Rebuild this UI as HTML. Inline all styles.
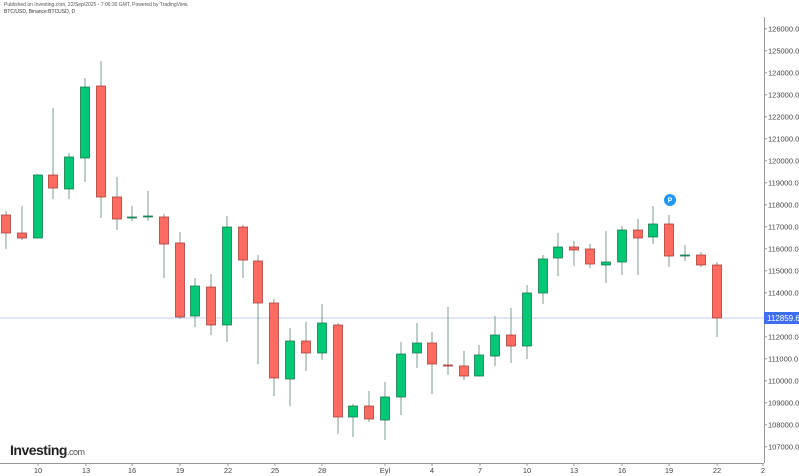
<!DOCTYPE html>
<html><head><meta charset="utf-8"><style>
html,body{margin:0;padding:0;background:#fff;width:799px;height:476px;overflow:hidden}
svg{display:block;font-family:"Liberation Sans",sans-serif}
</style></head><body>
<svg id="s" width="799" height="476" viewBox="0 0 799 476" xmlns="http://www.w3.org/2000/svg">
<text x="4" y="6" font-size="5" fill="#555">Published on Investing.com, 22/Sep/2025 - 7:06:30 GMT, Powered by TradingView.</text>
<text x="4" y="13" font-size="5" fill="#333">BTC/USD, Binance:BTCUSD, D</text>
<line x1="0" y1="318" x2="764" y2="318" stroke="#c5cff0" stroke-width="1"/>
<line x1="764.5" y1="17" x2="764.5" y2="463" stroke="#999" stroke-width="1"/>
<line x1="0" y1="463.5" x2="764" y2="463.5" stroke="#999" stroke-width="1"/>
<g id="c"></g>
<circle cx="670" cy="200" r="6" fill="#2196f3"/>
<text x="670" y="202.5" font-size="7" fill="#fff" text-anchor="middle" font-weight="bold">P</text>
<rect x="764" y="312" width="35" height="12" fill="#3d6ef0"/>
<text x="767" y="321" font-size="8" fill="#fff">112859.6</text>
<text x="10" y="455" font-size="14" font-weight="bold" fill="#222" letter-spacing="-0.5">Investing<tspan font-size="9" font-weight="normal" fill="#555">.com</tspan></text>
</svg>
<script>
var d=[[6,0,215,233,211,249],[22,0,233,238,206,240],[38,1,175,238,174,238],[53,0,175,188,108,199],[69,1,157,189,153,199],[85,1,87,158,78,182],[101,0,86,197,61,218],[117,0,197,219,177,230],[132,1,217,218,206,221],[148,1,216,217,191,221],[164,0,217,244,214,278],[180,0,243,317,232,319],[195,1,286,316,278,327],[211,0,287,325,274,335],[227,1,227,325,216,342],[243,0,227,260,225,278],[258,0,261,303,255,364],[274,0,303,378,299,396],[290,1,341,379,328,406],[306,0,341,353,322,371],[322,1,323,353,304,360],[338,0,325,417,323,434],[353,1,406,417,404,437],[369,0,406,419,391,422],[385,1,397,420,382,440],[401,1,354,397,342,415],[417,1,343,353,323,368],[432,0,343,364,332,394],[448,0,365,366,307,375],[464,0,366,376,351,380],[479,1,355,376,345,376],[495,1,335,356,316,366],[511,0,335,346,308,363],[527,1,293,346,285,359],[543,1,259,293,255,304],[558,1,247,258,233,276],[574,0,247,250,241,266],[590,0,249,264,244,268],[606,1,262,265,231,283],[622,1,230,262,226,275],[638,0,230,238,219,275],[653,1,224,237,206,244],[669,0,224,256,215,267],[685,1,255,256,245,261],[701,0,255,265,252,267],[717,0,265,318,262,337]];
var h='';
d.forEach(function(c){var x=c[0],f=c[1]?'#00c875':'#ff6b61',s=c[1]?'#1d7a52':'#a8403a';
h+='<line x1="'+x+'" y1="'+c[4]+'" x2="'+x+'" y2="'+c[5]+'" stroke="#7d9b8c" stroke-width="1"/>';
h+='<rect x="'+(x-4.5)+'" y="'+c[2]+'" width="9" height="'+Math.max(1,c[3]-c[2])+'" fill="'+f+'" stroke="'+s+'" stroke-width="0.8"/>';});
for(var p=107000;p<=126000;p+=1000){var y=336.7-(p-112000)*0.022;
h+='<line x1="764" y1="'+y+'" x2="767" y2="'+y+'" stroke="#999"/><text x="768" y="'+(y+3)+'" font-size="7.5" fill="#444">'+p+'.0</text>';}
var L=[[38,'10'],[86,'13'],[132,'16'],[180,'19'],[228,'22'],[275,'25'],[322,'28'],[385,'Eyl'],[432,'4'],[480,'7'],[527,'10'],[574,'13'],[622,'16'],[669,'19'],[717,'22'],[763,'2']];
L.forEach(function(l){h+='<line x1="'+l[0]+'" y1="463" x2="'+l[0]+'" y2="466" stroke="#999"/><text x="'+l[0]+'" y="473" font-size="7.5" fill="#444" text-anchor="middle">'+l[1]+'</text>';});
document.getElementById('c').innerHTML=h;
</script>
</body></html>
